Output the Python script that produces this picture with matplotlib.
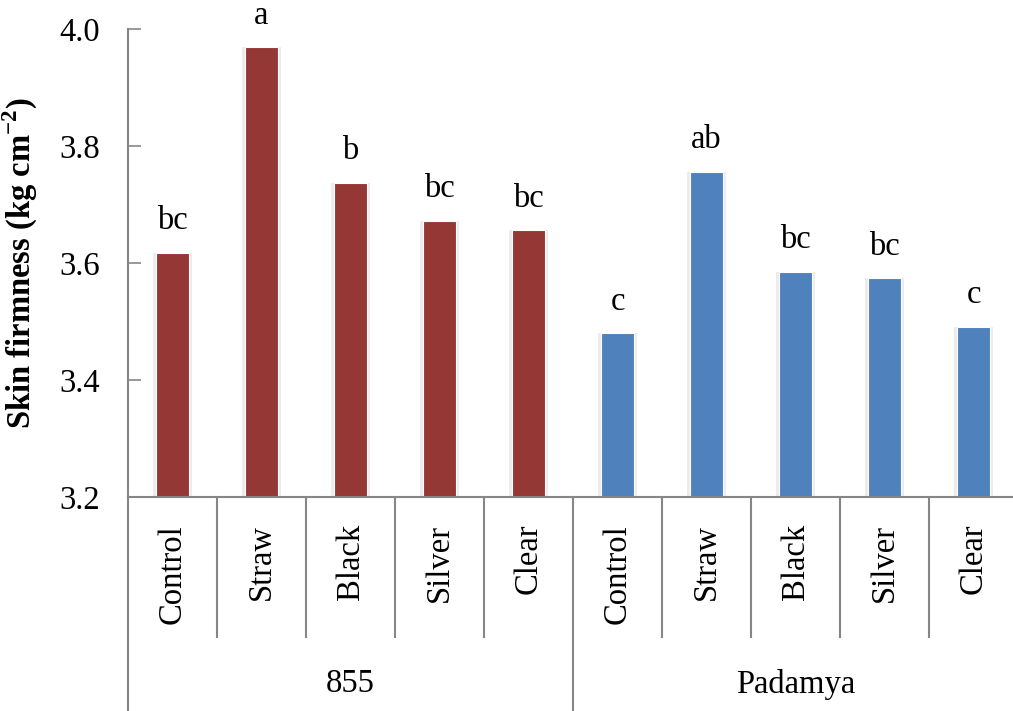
import matplotlib
matplotlib.use("Agg")
import matplotlib.pyplot as plt
import matplotlib.transforms as mtransforms
import numpy as np

plt.rcParams['font.family'] = ['Liberation Serif', 'DejaVu Serif']
plt.rcParams['mathtext.fontset'] = 'custom'
plt.rcParams['mathtext.rm'] = 'Liberation Serif'
plt.rcParams['mathtext.bf'] = 'Liberation Serif:bold'

# datos
tratamientos = ["Control", "Straw", "Black", "Silver", "Clear"]
variedades = ["855", "Padamya"]
firmeza_855 = [3.617, 3.969, 3.737, 3.672, 3.656]
firmeza_padamya = [3.480, 3.756, 3.585, 3.574, 3.491]
letras_855 = ["bc", "a", "b", "bc", "bc"]
letras_padamya = ["c", "ab", "bc", "bc", "c"]
colores = ["#953735", "#4F81BD"]

W, H = 1013, 711
fs = 23.5
fig = plt.figure(figsize=(W / 100, H / 100), dpi=100)
ax = fig.add_axes([128 / W, (H - 497) / H, 890 / W, 468 / H])

gris = "#868686"
n = len(tratamientos)
valores = [firmeza_855, firmeza_padamya]
letras = [letras_855, letras_padamya]
ancho = 0.37

for g in range(len(variedades)):
    x = np.arange(n) + g * n
    # sombra suave alrededor de las barras
    ax.bar(x, np.array(valores[g]) - 3.2, bottom=3.2, width=ancho + 0.06,
           color="#ececec", zorder=1)
    ax.bar(x, np.array(valores[g]) - 3.2, bottom=3.2, width=ancho,
           color=colores[g], edgecolor="white", linewidth=0.8, zorder=2)
    for xi, v, l in zip(x, valores[g], letras[g]):
        ax.annotate(l, (xi, v), xytext=(0, 17), textcoords="offset points",
                    ha="center", va="baseline", fontsize=fs)

ax.set_xlim(-0.5, 2 * n - 0.5)
ax.set_ylim(3.2, 4.0)
ax.set_yticks([3.2, 3.4, 3.6, 3.8, 4.0])
ax.set_yticklabels(["3.2", "3.4", "3.6", "3.8", "4.0"])
ax.tick_params(axis="y", direction="in", length=9, width=1.2, color=gris,
               labelsize=fs, pad=20)
ax.set_xticks([])
for s in ["top", "right"]:
    ax.spines[s].set_visible(False)
for s in ["left", "bottom"]:
    ax.spines[s].set_color(gris)
    ax.spines[s].set_linewidth(1.5)

ax.set_ylabel(r"Skin firmness (kg cm$^{\mathbf{-2}}$)", fontsize=fs,
              fontweight="bold")
ax.yaxis.set_label_coords(-0.099, 0.5)

# etiquetas de categorias y lineas divisorias
trans = mtransforms.blended_transform_factory(ax.transData, fig.transFigure)
y0 = (H - 497) / H
y_cat = (H - 637) / H
for i in range(2 * n + 1):
    borde = i - 0.5
    if i % n == 0:
        ax.plot([borde, borde], [y0, 0], transform=trans, color=gris,
                lw=1.5, clip_on=False)
    else:
        ax.plot([borde, borde], [y0, y_cat], transform=trans, color=gris,
                lw=1.5, clip_on=False)

for g in range(len(variedades)):
    for i, t in enumerate(tratamientos):
        ax.text(i + g * n, (H - 524) / H, t, transform=trans, rotation=90,
                ha="center", va="top", fontsize=fs)
    ax.text(g * n + (n - 1) / 2, (H - 684) / H, variedades[g], transform=trans,
            ha="center", va="center", fontsize=fs)

fig.savefig("out.png", dpi=100)
